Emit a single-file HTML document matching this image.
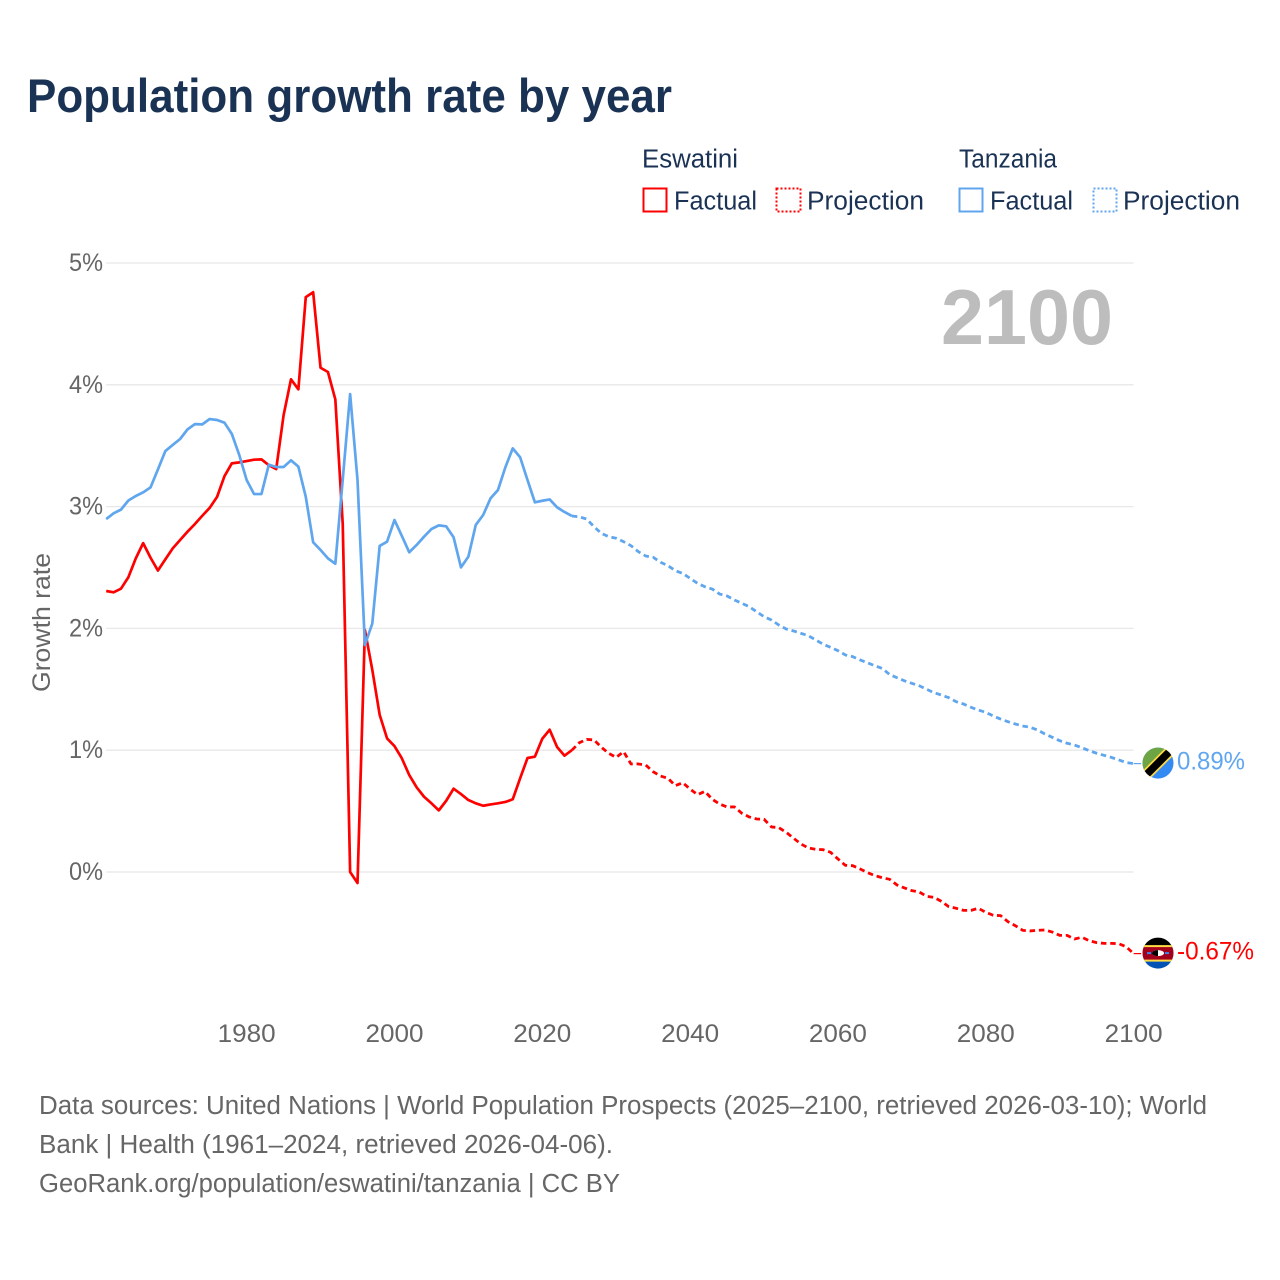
<!DOCTYPE html>
<html lang="en">
<head>
<meta charset="utf-8">
<title>Population growth rate by year</title>
<style>
html,body{margin:0;padding:0;background:#fff;width:1280px;height:1280px;overflow:hidden}
svg{display:block}
text{font-family:"Liberation Sans",sans-serif}
</style>
</head>
<body>
<svg id="chart" xmlns="http://www.w3.org/2000/svg" width="1280" height="1280" viewBox="0 0 1280 1280">
  <defs>
    <clipPath id="flag-clip"><circle cx="0" cy="0" r="15.5"/></clipPath>
  </defs>
  <rect x="0" y="0" width="1280" height="1280" fill="#fff"/>
  <text x="27" y="112" font-size="47" font-weight="700" fill="#1a3254" textLength="645" lengthAdjust="spacingAndGlyphs">Population growth rate by year</text>

  <g font-size="25.5" fill="#1a3254">
    <text x="642" y="167.5" textLength="96" lengthAdjust="spacingAndGlyphs">Eswatini</text>
    <text x="959" y="167.5" textLength="98" lengthAdjust="spacingAndGlyphs">Tanzania</text>
    <rect x="643.5" y="188.5" width="23" height="23" fill="none" stroke="#ff0000" stroke-width="2"/>
    <text x="674" y="209.5" textLength="83" lengthAdjust="spacingAndGlyphs">Factual</text>
    <rect x="776.5" y="188.5" width="24" height="23" fill="none" stroke="#ff0000" stroke-width="2" stroke-dasharray="2 2"/>
    <text x="807" y="209.5" textLength="117" lengthAdjust="spacingAndGlyphs">Projection</text>
    <rect x="959.5" y="188.5" width="23" height="23" fill="none" stroke="#5fa6ee" stroke-width="2"/>
    <text x="990" y="209.5" textLength="83" lengthAdjust="spacingAndGlyphs">Factual</text>
    <rect x="1093.5" y="188.5" width="23" height="23" fill="none" stroke="#5fa6ee" stroke-width="2" stroke-dasharray="2 2"/>
    <text x="1123" y="209.5" textLength="117" lengthAdjust="spacingAndGlyphs">Projection</text>
  </g>

  <g id="grid"></g>
  <g id="y-ticks" font-size="25" fill="#666"></g>
  <g id="x-ticks" font-size="25" fill="#666"></g>

  <text transform="translate(50,692) rotate(-90)" x="0" y="0" font-size="25" fill="#666" textLength="139" lengthAdjust="spacingAndGlyphs">Growth rate</text>

  <text x="941" y="344" font-size="78" font-weight="700" fill="#bdbdbd" textLength="172" lengthAdjust="spacingAndGlyphs">2100</text>

  <g id="series"></g>

  <g id="flag-tanzania">
    <g clip-path="url(#flag-clip)">
      <rect x="-16" y="-16" width="32" height="32" fill="#338af3"/>
      <polygon points="-16,-16 16,-16 -16,16" fill="#6da544"/>
      <line x1="-16" y1="16" x2="16" y2="-16" stroke="#ffda44" stroke-width="11"/>
      <line x1="-16" y1="16" x2="16" y2="-16" stroke="#000" stroke-width="7.5"/>
    </g>
  </g>
  <g id="flag-eswatini">
    <g clip-path="url(#flag-clip)">
      <rect x="-16" y="-16" width="32" height="16" fill="#000"/>
      <rect x="-16" y="0" width="32" height="16" fill="#0052b4"/>
      <rect x="-16" y="-8" width="32" height="16.5" fill="#ffda44"/>
      <rect x="-16" y="-6" width="32" height="12.5" fill="#a2001d"/>
      <ellipse cx="0" cy="0" rx="6" ry="3" fill="#fff"/>
      <path d="M-6,0 A6,3 0 0 1 0,-3 L0,3 A6,3 0 0 1 -6,0Z" fill="#000"/>
      <rect x="-11" y="-1" width="4" height="2" fill="#338af3"/>
      <rect x="7" y="-1" width="4" height="2" fill="#338af3"/>
    </g>
  </g>
  <g id="end-labels" font-size="25"></g>

  <g font-size="25.5" fill="#666">
    <text x="39" y="1114" textLength="1168" lengthAdjust="spacingAndGlyphs">Data sources: United Nations | World Population Prospects (2025–2100, retrieved 2026-03-10); World</text>
    <text x="39" y="1153" textLength="574" lengthAdjust="spacingAndGlyphs">Bank | Health (1961–2024, retrieved 2026-04-06).</text>
    <text x="39" y="1192" textLength="581" lengthAdjust="spacingAndGlyphs">GeoRank.org/population/eswatini/tanzania | CC BY</text>
  </g>
</svg>

<script>
// Chart data (percent per year)
const yTickValues = [0, 1, 2, 3, 4, 5];
const yTickLabels = ["0%", "1%", "2%", "3%", "4%", "5%"];
const xTickValues = [1980, 2000, 2020, 2040, 2060, 2080, 2100];
const xTickLabels = ["1980", "2000", "2020", "2040", "2060", "2080", "2100"];

const factualStartYear = 1961;
const projectionStartYear = 2024;

const eswatiniFactual = [
  2.307, 2.296, 2.326, 2.42, 2.575, 2.70, 2.58, 2.475, 2.567, 2.657,
  2.726, 2.794, 2.857, 2.925, 2.99, 3.08, 3.25, 3.355, 3.363, 3.374,
  3.385, 3.388, 3.34, 3.308, 3.75, 4.045, 3.963, 4.72, 4.76, 4.14,
  4.105, 3.88, 2.86, 0.0, -0.09, 1.987, 1.66, 1.29, 1.097, 1.034,
  0.933, 0.796, 0.695, 0.618, 0.564, 0.506, 0.585, 0.684, 0.64, 0.591,
  0.564, 0.544, 0.555, 0.564, 0.575, 0.597, 0.769, 0.936, 0.947, 1.094,
  1.168, 1.026, 0.955, 1.0
];
const eswatiniProjection = [
  1.0, 1.061, 1.089, 1.084, 1.024, 0.974, 0.941, 0.988, 0.887, 0.887,
  0.878, 0.823, 0.788, 0.769, 0.709, 0.733, 0.681, 0.635, 0.662, 0.597,
  0.558, 0.534, 0.534, 0.482, 0.452, 0.435, 0.433, 0.37, 0.364, 0.326,
  0.277, 0.23, 0.197, 0.186, 0.183, 0.162, 0.107, 0.055, 0.052, 0.025,
  -0.005, -0.03, -0.047, -0.06, -0.107, -0.131, -0.153, -0.164, -0.2, -0.208,
  -0.241, -0.285, -0.298, -0.315, -0.315, -0.298, -0.331, -0.355, -0.358, -0.408,
  -0.441, -0.479, -0.484, -0.479, -0.476, -0.493, -0.52, -0.52, -0.55, -0.536,
  -0.564, -0.58, -0.586, -0.586, -0.589, -0.614, -0.67
];
const tanzaniaFactual = [
  2.898, 2.945, 2.975, 3.05, 3.087, 3.117, 3.158, 3.306, 3.456, 3.506,
  3.555, 3.634, 3.677, 3.675, 3.719, 3.711, 3.689, 3.596, 3.424, 3.218,
  3.103, 3.103, 3.344, 3.325, 3.325, 3.38, 3.328, 3.08, 2.707, 2.644,
  2.575, 2.531, 3.22, 3.924, 3.218, 1.864, 2.04, 2.677, 2.712, 2.89,
  2.759, 2.625, 2.685, 2.753, 2.816, 2.846, 2.838, 2.748, 2.501, 2.589,
  2.849, 2.931, 3.068, 3.136, 3.322, 3.478, 3.405, 3.218, 3.035, 3.048,
  3.059, 2.994, 2.956, 2.923
];
const tanzaniaProjection = [
  2.923, 2.916, 2.898, 2.835, 2.78, 2.753, 2.74, 2.712, 2.679, 2.63,
  2.594, 2.584, 2.543, 2.515, 2.474, 2.452, 2.411, 2.37, 2.342, 2.323,
  2.282, 2.266, 2.233, 2.206, 2.178, 2.137, 2.096, 2.069, 2.028, 1.995,
  1.979, 1.959, 1.94, 1.905, 1.87, 1.845, 1.817, 1.782, 1.768, 1.741,
  1.718, 1.693, 1.671, 1.621, 1.595, 1.57, 1.549, 1.529, 1.5, 1.472,
  1.453, 1.431, 1.398, 1.379, 1.352, 1.33, 1.311, 1.281, 1.256, 1.234,
  1.215, 1.199, 1.188, 1.166, 1.133, 1.106, 1.078, 1.057, 1.043, 1.02,
  0.996, 0.975, 0.958, 0.941, 0.92, 0.898, 0.89
];
const endLabelEswatini = "-0.67%";
const endLabelTanzania = "0.89%";

const SVG_NS = "http://www.w3.org/2000/svg";
const RED = "#ff0000";
const BLUE = "#5fa6ee";

function xScale(year) { return 106.2 + (year - 1961) * (1133.6 - 106.2) / (2100 - 1961); }
function yScale(value) { return 872 - value * (872 - 263) / 5; }

function linePath(values, startYear) {
  return values.map(function (v, i) {
    return (i === 0 ? "M" : "L") + xScale(startYear + i).toFixed(2) + "," + yScale(v).toFixed(2);
  }).join(" ");
}

const gridGroup = document.getElementById("grid");
const yTickGroup = document.getElementById("y-ticks");
yTickValues.forEach(function (v, i) {
  const gl = document.createElementNS(SVG_NS, "line");
  
  
  gl.setAttribute("x1", xScale(1961));
  gl.setAttribute("x2", xScale(2100));
  gl.setAttribute("y1", yScale(v));
  gl.setAttribute("y2", yScale(v));
  gl.setAttribute("stroke", "#e8e8e8");
  gl.setAttribute("stroke-width", "1.3");
  gridGroup.appendChild(gl);

  const t = document.createElementNS(SVG_NS, "text");
  
  
  t.setAttribute("x", 69);
  t.setAttribute("y", yScale(v) + 8);
  t.setAttribute("textLength", 34);
  t.setAttribute("lengthAdjust", "spacingAndGlyphs");
  t.textContent = yTickLabels[i];
  yTickGroup.appendChild(t);
});

const xTickGroup = document.getElementById("x-ticks");
xTickValues.forEach(function (yr, i) {
  const t = document.createElementNS(SVG_NS, "text");
  
  
  t.setAttribute("x", xScale(yr) - 29);
  t.setAttribute("y", 1042);
  t.setAttribute("textLength", 58);
  t.setAttribute("lengthAdjust", "spacingAndGlyphs");
  t.textContent = xTickLabels[i];
  xTickGroup.appendChild(t);
});

const seriesGroup = document.getElementById("series");

function addPath(name, d, color, width, dash) {
  const p = document.createElementNS(SVG_NS, "path");
  
  
  p.setAttribute("d", d);
  p.setAttribute("fill", "none");
  p.setAttribute("stroke", color);
  p.setAttribute("stroke-width", width);
  p.setAttribute("stroke-linejoin", "round");
  if (dash) p.setAttribute("stroke-dasharray", dash);
  seriesGroup.appendChild(p);
}

addPath("line-tanzania-projection", linePath(tanzaniaProjection, projectionStartYear), BLUE, 2.8, "5.5 3.8");
addPath("line-eswatini-projection", linePath(eswatiniProjection, projectionStartYear), RED, 2.8, "5.5 3.8");
addPath("line-eswatini-factual", linePath(eswatiniFactual, factualStartYear), RED, 2.7, null);
addPath("line-tanzania-factual", linePath(tanzaniaFactual, factualStartYear), BLUE, 2.7, null);

function addEnd(series, color, flagId, labelText, labelName, labelWidth) {
  const last = series[series.length - 1];
  const ex = xScale(2100);
  const ey = yScale(last);

  const c = document.createElementNS(SVG_NS, "line");
  
  
  c.setAttribute("x1", ex);
  c.setAttribute("x2", ex + 7.5);
  c.setAttribute("y1", ey);
  c.setAttribute("y2", ey);
  c.setAttribute("stroke", color);
  c.setAttribute("stroke-width", "1.2");
  seriesGroup.appendChild(c);

  document.getElementById(flagId).setAttribute("transform", "translate(1158," + (ey - 0.5).toFixed(2) + ")");

  const t = document.createElementNS(SVG_NS, "text");
  
  
  t.setAttribute("x", 1177);
  t.setAttribute("y", ey + 6);
  t.setAttribute("fill", color);
  t.setAttribute("textLength", labelWidth);
  t.setAttribute("lengthAdjust", "spacingAndGlyphs");
  t.textContent = labelText;
  document.getElementById("end-labels").appendChild(t);
}

addEnd(tanzaniaProjection, BLUE, "flag-tanzania", endLabelTanzania, "end-label-tanzania", 68);
addEnd(eswatiniProjection, RED, "flag-eswatini", endLabelEswatini, "end-label-eswatini", 77);
</script>
</body>
</html>
